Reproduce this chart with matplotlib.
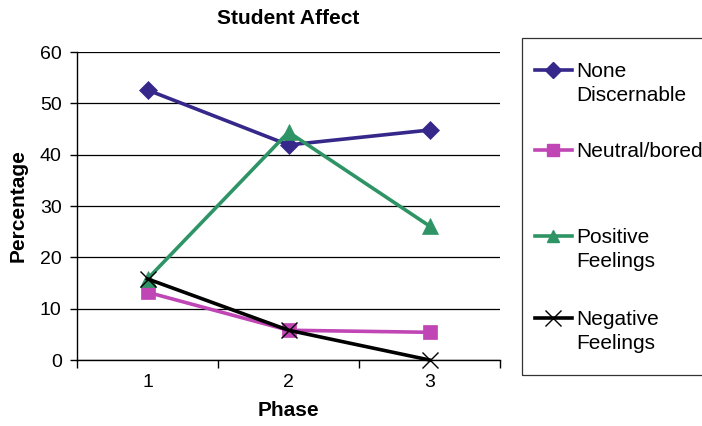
import matplotlib.pyplot as plt
from matplotlib.lines import Line2D
from matplotlib.patches import Rectangle

plt.rcParams['font.family'] = ['Liberation Sans', 'DejaVu Sans']

phases = [1, 2, 3]
none_discernable = [52.6, 41.9, 44.8]
neutral_bored = [13.2, 5.8, 5.4]
positive_feelings = [15.8, 44.4, 26.1]
negative_feelings = [15.8, 5.8, 0.0]

labels = ["None\nDiscernable", "Neutral/bored", "Positive\nFeelings", "Negative\nFeelings"]
colors = ["#35288a", "#c045b5", "#2e9466", "#000000"]
markers = ["D", "s", "^", "x"]
msizes = [9, 10, 12, 12]

fig = plt.figure(figsize=(7.02, 4.26), dpi=100)
ax = fig.add_axes([0.1097, 0.1549, 0.6026, 0.7230])

series = [none_discernable, neutral_bored, positive_feelings, negative_feelings]
for vals, c, m, ms in zip(series, colors, markers, msizes):
    ax.plot(phases, vals, color=c, marker=m, markersize=ms, linewidth=2.6,
            markeredgewidth=1 if m == "x" else 0.5, markeredgecolor=c, clip_on=False, zorder=3)

ax.set_xlim(0.5, 3.5)
ax.set_ylim(0, 60)
ax.set_yticks(range(0, 61, 10))
ax.set_xticks(phases)
ax.set_xticks([0.5, 1.5, 2.5, 3.5], minor=True)
ax.tick_params(axis='x', which='major', length=0, labelsize=14, pad=10)
ax.tick_params(axis='x', which='minor', length=6, width=1, direction='out')
ax.tick_params(axis='y', length=5, width=1, labelsize=14, pad=6)
ax.yaxis.grid(True, color='black', linewidth=0.9)
ax.set_axisbelow(True)
for s in ['top', 'right']:
    ax.spines[s].set_visible(False)
for s in ['left', 'bottom']:
    ax.spines[s].set_linewidth(1)

ax.set_title("Student Affect", fontsize=15, fontweight='bold', pad=20)
ax.set_xlabel("Phase", fontsize=15, fontweight='bold', labelpad=7)
ax.set_ylabel("Percentage", fontsize=15, fontweight='bold', labelpad=9)

# legend box drawn by hand (it runs off the right edge in the reference)
W, H = 702, 426
fig.add_artist(Rectangle((522 / W, 1 - 375 / H), 200 / W, 337 / H,
                         transform=fig.transFigure, fill=False,
                         edgecolor='#333333', linewidth=0.9))
entry_y = [70, 150, 236, 318]
for lab, c, m, y in zip(labels, colors, markers, entry_y):
    yf = 1 - y / H
    fig.add_artist(Line2D([535 / W, 572 / W], [yf, yf], transform=fig.transFigure,
                          color=c, linewidth=2.6))
    fig.add_artist(Line2D([553 / W], [yf], transform=fig.transFigure, color=c,
                          marker=m, markersize=8 if m != "x" else 11,
                          markeredgewidth=1, linestyle='none'))
    fig.text(576 / W, yf + 8 / H, lab, fontsize=15, va='top', ha='left',
             linespacing=1.32)

fig.savefig("out.png", dpi=100)
